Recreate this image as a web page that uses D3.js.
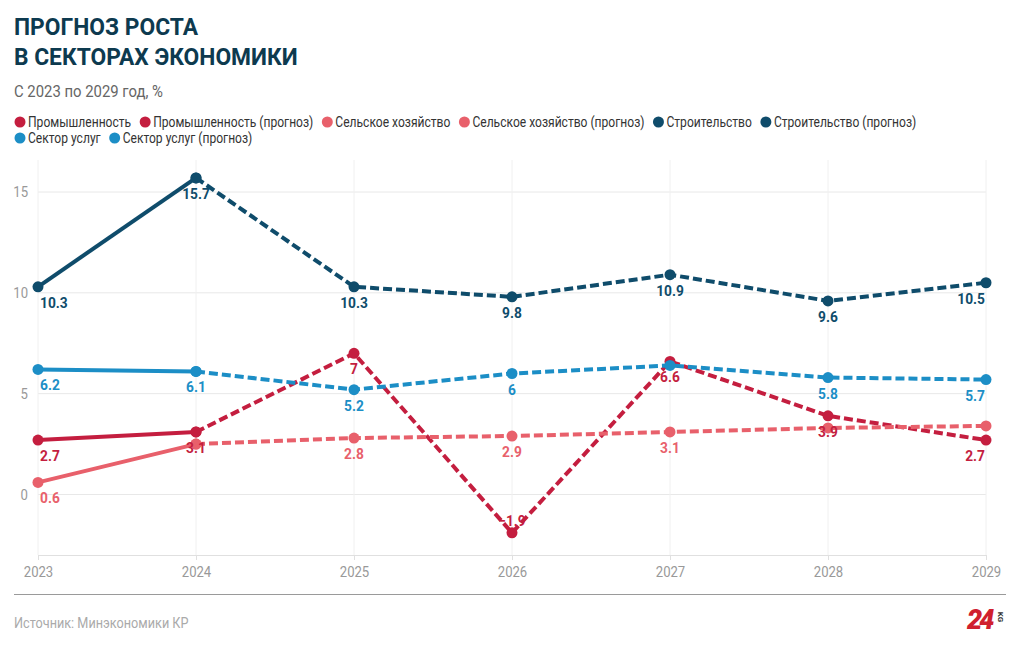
<!DOCTYPE html>
<html><head><meta charset="utf-8">
<script src="https://cdn.jsdelivr.net/npm/d3@7"></script>
<style>body{margin:0;background:#fff;} svg{font-family:Roboto,sans-serif;display:block;}</style>
</head><body><svg id="c" width="1020" height="650"></svg>
<script>
// ---- data ----
const years = [2023, 2024, 2025, 2026, 2027, 2028, 2029];
const seriesNames = ["Промышленность", "Промышленность (прогноз)", "Сельское хозяйство", "Сельское хозяйство (прогноз)", "Строительство", "Строительство (прогноз)", "Сектор услуг", "Сектор услуг (прогноз)"];
const seriesColors = ["#c41e3f", "#c41e3f", "#e8606b", "#e8606b", "#0f4c6b", "#0f4c6b", "#1c8ec6", "#1c8ec6"];
const seriesDashed = [false, true, false, true, false, true, false, true];
const industry = [2.7, 3.1, null, null, null, null, null];
const industryForecast = [null, 3.1, 7, -1.9, 6.6, 3.9, 2.7];
const agriculture = [0.6, 2.5, null, null, null, null, null];
const agricultureForecast = [null, 2.5, 2.8, 2.9, 3.1, 3.3, 3.4];
const construction = [10.3, 15.7, null, null, null, null, null];
const constructionForecast = [null, 15.7, 10.3, 9.8, 10.9, 9.6, 10.5];
const services = [6.2, 6.1, null, null, null, null, null];
const servicesForecast = [null, 6.1, 5.2, 6.0, 6.4, 5.8, 5.7];
const yTicks = [0, 5, 10, 15];
const titleLines = ["ПРОГНОЗ РОСТА", "В СЕКТОРАХ ЭКОНОМИКИ"];
const subtitle = "С 2023 по 2029 год, %";
const source = "Источник: Минэкономики КР";

const seriesValues = [industry, industryForecast, agriculture, agricultureForecast, construction, constructionForecast, services, servicesForecast];

// ---- layout ----
const COND = 0.875; // emulate condensed face
const svg = d3.select("#c");
const plotLeft = 38, plotRight = 986, plotTop = 160, plotBottom = 555;

svg.append("g").selectAll("text").data(titleLines).join("text")
  .attr("transform", (d, i) => `translate(14,${35 + i * 30}) scale(0.97,1)`)
  .attr("fill", "#0d3a4f").attr("font-size", 23.5).attr("font-weight", 700)
  .text(d => d);
svg.append("text").attr("transform", `translate(14,97) scale(${COND},1)`).attr("fill", "#666")
  .attr("font-size", 17).text(subtitle);

// legend
const legend = svg.append("g");
let lx = 15, ly = 122;
seriesNames.forEach((name, i) => {
  const g = legend.append("g");
  g.append("circle").attr("r", 5.5).attr("fill", seriesColors[i]);
  const t = g.append("text").attr("transform", `translate(8,0) scale(${COND},1)`).attr("dy", "0.35em")
    .attr("font-size", 13.8).attr("fill", "#333").text(name);
  const w = 8 + t.node().getComputedTextLength() * COND;
  if (lx + 5 + w > 1005) { lx = 15; ly += 16; }
  g.attr("transform", `translate(${lx + 5},${ly})`);
  lx += 5 + w + 9;
});

const x = d3.scalePoint().domain(years).range([plotLeft, plotRight]);
const y = d3.scaleLinear().domain([-3, 15]).range([plotBottom, 192]);

// grid
const grid = svg.append("g");
grid.selectAll("line.h").data(yTicks).join("line").attr("class", "h")
  .attr("x1", plotLeft).attr("x2", plotRight).attr("y1", d => y(d)).attr("y2", d => y(d))
  .attr("stroke", "#e8e8e8").attr("stroke-width", 1);
grid.selectAll("line.v").data(years).join("line").attr("class", "v")
  .attr("x1", d => x(d)).attr("x2", d => x(d)).attr("y1", plotTop).attr("y2", plotBottom)
  .attr("stroke", "#f0f0f0").attr("stroke-width", 1);

// y axis
const yAxis = svg.append("g").attr("transform", `translate(${plotLeft - 10},0)`)
  .call(d3.axisLeft(y).tickValues(yTicks).tickSize(0).tickFormat(d3.format("d")));
yAxis.select(".domain").remove();
yAxis.selectAll("text").attr("font-family", "Roboto").attr("font-size", 15).attr("fill", "#999")
  .attr("x", 0).attr("transform", `scale(${COND},1)`);

// x axis
const xAxis = svg.append("g").attr("transform", `translate(0,${plotBottom})`)
  .call(d3.axisBottom(x).tickSize(5).tickPadding(6));
xAxis.select(".domain").attr("stroke", "#e0e0e0");
xAxis.selectAll("line").attr("stroke", "#e0e0e0");
xAxis.selectAll("text").attr("font-family", "Roboto").attr("font-size", 15).attr("fill", "#999")
  .attr("transform", `scale(${COND},1)`);

// series
const line = d3.line().defined(d => d.v !== null).x(d => x(d.year)).y(d => y(d.v));
const seriesG = svg.append("g");
const placed = [];
const labelsToDraw = [];
seriesValues.forEach((vals, si) => {
  const pts = years.map((yr, i) => ({ year: yr, v: vals[i] }));
  const g = seriesG.append("g");
  g.append("path").datum(pts).attr("d", line).attr("fill", "none")
    .attr("stroke", seriesColors[si]).attr("stroke-width", 4)
    .attr("stroke-dasharray", seriesDashed[si] ? "9,4" : null);
  g.selectAll("circle").data(pts.filter(d => d.v !== null)).join("circle")
    .attr("cx", d => x(d.year)).attr("cy", d => y(d.v)).attr("r", 5.5).attr("fill", seriesColors[si]);
  pts.filter(d => d.v !== null).forEach(d => labelsToDraw.push({ si, d }));
});

// data labels with collision removal
const labelG = svg.append("g");
labelsToDraw.forEach(({ si, d }) => {
  const px = x(d.year), py = y(d.v);
  const t = labelG.append("text").attr("font-size", 14.5).attr("font-weight", 700)
    .attr("fill", seriesColors[si]).attr("text-anchor", "middle").text(d3.format("")(d.v));
  const w = t.node().getComputedTextLength() * 0.95;
  let cx = px;
  if (cx - w / 2 < plotLeft + 2) cx = plotLeft + 2 + w / 2;
  if (cx + w / 2 > plotRight - 1) cx = plotRight - 1 - w / 2;
  let base = py + 21;
  if (base + 3 > plotBottom) base = py - 7;
  const box = { x0: cx - w / 2, x1: cx + w / 2, y0: base - 13, y1: base + 3 };
  const hit = placed.some(b => b.x0 < box.x1 && box.x0 < b.x1 && b.y0 < box.y1 && box.y0 < b.y1);
  if (hit) { t.remove(); return; }
  placed.push(box);
  t.attr("transform", `translate(${cx},${base}) scale(0.95,1)`);
});

// footer
svg.append("line").attr("x1", 14).attr("x2", 1006).attr("y1", 594.5).attr("y2", 594.5)
  .attr("stroke", "#9a9a9a").attr("stroke-width", 1);
svg.append("text").attr("transform", `translate(14,628) scale(${COND},1)`).attr("font-size", 14.5)
  .attr("fill", "#aaa").text(source);
const logo = svg.append("g").attr("transform", "translate(967,629)");
logo.append("text").attr("font-size", 27).attr("font-weight", 900).attr("font-style", "italic")
  .attr("letter-spacing", -3).attr("fill", "#d0202e").text("24");
logo.append("text").attr("transform", "translate(31,-12) rotate(90)").attr("font-size", 8)
  .attr("font-weight", 700).attr("fill", "#333").attr("text-anchor", "middle").text("KG");
</script></body></html>
